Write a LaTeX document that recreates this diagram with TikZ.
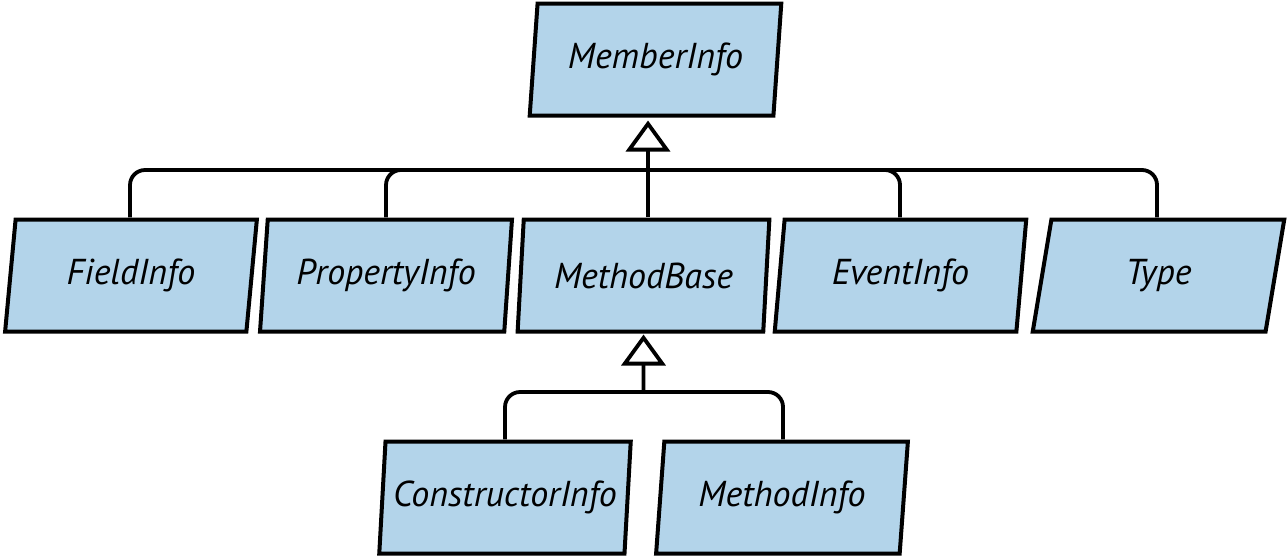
\documentclass[tikz,border=0pt]{standalone}
\usepackage{fontspec}
\setmainfont{PT Sans}
\usetikzlibrary{shapes.geometric,arrows.meta}
\definecolor{boxblue}{RGB}{179,212,234}
\tikzset{
  cls/.style={shape=trapezium, trapezium left angle=80, trapezium right angle=100,
    trapezium stretches=true, minimum width=252pt, minimum height=112pt,
    draw=black, line width=4pt, fill=boxblue, inner sep=0pt,
    font=\fontsize{36}{40}\selectfont\itshape},
  conn/.style={draw=black, line width=3.8pt, rounded corners=15pt},
  inh/.style={draw=black, line width=3.8pt, -{Triangle[open, length=31pt, width=44pt, line join=miter]}}
}
\begin{document}
\begin{tikzpicture}[x=1pt,y=-1pt]
\useasboundingbox (0,0) rectangle (1287,558);
\node[cls] (MemberInfo) at (655.5,59.5) {MemberInfo};
\node[cls] (FieldInfo) at (131,275.5) {FieldInfo};
\node[cls] (PropertyInfo) at (386,275.5) {PropertyInfo};
\node[cls] (MethodBase) at (643.5,275.5) {MethodBase};
\node[cls] (EventInfo) at (900.5,275.5) {EventInfo};
\node[cls] (Type) at (1158.5,275.5) {Type};
\node[cls] (ConstructorInfo) at (505,497.5) {ConstructorInfo};
\node[cls] (MethodInfo) at (782,497.5) {MethodInfo};
\coordinate (topbus) at (648,170);
\coordinate (botbus) at (643.5,392);
% top hierarchy
\draw[conn] ([xshift=-1pt]FieldInfo.north) -- ([xshift=-1pt]FieldInfo.north |- topbus) -- ([xshift=-1.5pt]Type.north |- topbus) -- ([xshift=-1.5pt]Type.north);
\draw[conn] (PropertyInfo.north) -- (PropertyInfo.north |- topbus) -- ++(40,0);
\draw[conn] ([xshift=-0.5pt]EventInfo.north) -- ([xshift=-0.5pt]EventInfo.north |- topbus) -- ++(-40,0);
\draw[conn] (MethodBase.north -| topbus) -- (topbus);
\draw[inh, shorten >=3pt] (topbus) -- (topbus |- MemberInfo.south);
% bottom hierarchy
\draw[conn] (ConstructorInfo.north) -- (ConstructorInfo.north |- botbus) -- ([xshift=1pt]MethodInfo.north |- botbus) -- ([xshift=1pt]MethodInfo.north);
\draw[inh, shorten >=1pt] (botbus) -- (MethodBase.south);
\end{tikzpicture}
\end{document}
